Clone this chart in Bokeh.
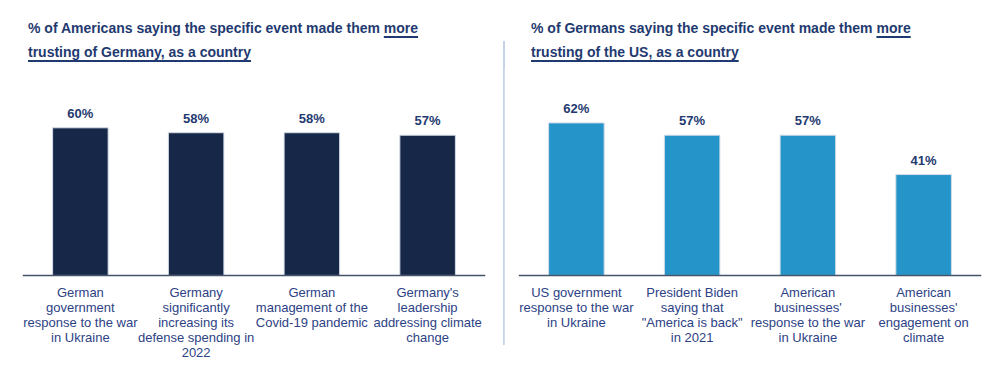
from bokeh.plotting import figure
from bokeh.layouts import row, column
from bokeh.models import Range1d, FactorRange, ColumnDataSource, LabelSet, Div, Span
from bokeh.core.properties import value
from bokeh.embed import file_html
from bokeh.resources import INLINE

# ---- data ----
us_categories = [
    "German\ngovernment\nresponse to the war\nin Ukraine",
    "Germany\nsignificantly\nincreasing its\ndefense spending in\n2022",
    "German\nmanagement of the\nCovid-19 pandemic",
    "Germany's\nleadership\naddressing climate\nchange",
]
us_values = [60, 58, 58, 57]

de_categories = [
    "US government\nresponse to the war\nin Ukraine",
    "President Biden\nsaying that\n\"America is back\"\nin 2021",
    "American\nbusinesses'\nresponse to the war\nin Ukraine",
    "American\nbusinesses'\nengagement on\nclimate",
]
de_values = [62, 57, 57, 41]

left_title = ["% of Americans saying the specific event made them ", "more",
              "trusting of Germany, as a country"]
right_title = ["% of Germans saying the specific event made them ", "more",
               "trusting of the US, as a country"]

FONT = "Liberation Sans"
TITLE_COLOR = "#1f3a70"
LABEL_COLOR = "#2d4285"
DIV_H = 68
FIG_H = 307
Y_TOP = 84.1
Y_BOTTOM = -40.65
PX_PER_UNIT = FIG_H / (Y_TOP - Y_BOTTOM)
LABEL_GAP_PX = 10


def title_div(parts, width, pad_left):
    u = "text-decoration:underline;text-decoration-thickness:2px;text-underline-offset:3px;"
    html = (f'<div style="font-family:\'{FONT}\',Arial,sans-serif;font-weight:bold;'
            f'font-size:14px;color:{TITLE_COLOR};line-height:24px;padding-top:16px;'
            f'padding-left:{pad_left}px;white-space:nowrap;">'
            f'{parts[0]}<span style="{u}">{parts[1]}</span><br>'
            f'<span style="{u}">{parts[2]}</span></div>')
    return Div(text=html, width=width, height=DIV_H, margin=(0, 0, 0, 0))


def make_panel(cats, vals, color, width, ml, mr):
    p = figure(width=width, height=FIG_H, x_range=FactorRange(*cats),
               y_range=Range1d(Y_BOTTOM, Y_TOP),
               output_backend="svg", toolbar_location=None,
               min_border_left=ml, min_border_right=mr, min_border_top=0, min_border_bottom=0)
    p.outline_line_color = None
    p.grid.visible = False
    p.axis.visible = False
    src = ColumnDataSource(dict(x=cats, top=vals, lab=[f"{v}%" for v in vals],
                                base=[-LABEL_GAP_PX / PX_PER_UNIT] * len(vals)))
    p.vbar(x="x", top="top", width=0.48, source=src, fill_color=color,
           line_color="#d6dde8", line_width=1)
    p.add_layout(Span(location=0, dimension="width", line_color="#44546a", line_width=1.5))
    p.add_layout(LabelSet(x="x", y="top", text="lab", source=src, y_offset=7,
                          text_align="center", text_baseline="bottom",
                          text_font=value(FONT), text_font_style="bold",
                          text_font_size="13px", text_color=TITLE_COLOR))
    p.text(x="x", y="base", text="x", source=src, anchor="top_center",
           text_align="center", text_baseline="top",
           text_font=value(FONT), text_font_size="13px",
           text_line_height=0.99, text_color=LABEL_COLOR)
    return p


p1 = make_panel(us_categories, us_values, "#172747", 500, 22, 15)
p2 = make_panel(de_categories, de_values, "#2494c9", 488, 14, 11)

d1 = title_div(left_title, 500, 28)
d2 = title_div(right_title, 488, 27)
divider = Div(text='<div style="margin-top:41px;margin-left:3px;width:2px;height:304px;'
                   'background:#c5d3e6;"></div>', width=4, height=DIV_H + FIG_H, margin=(0, 0, 0, 0))

layout = row(column(d1, p1), divider, column(d2, p2))
open("out.html", "w").write(file_html(layout, INLINE))
